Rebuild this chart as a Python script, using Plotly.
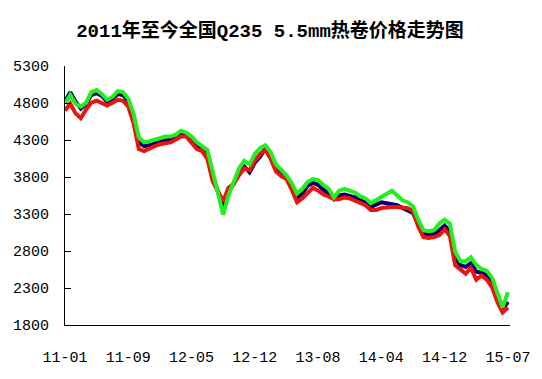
import plotly.graph_objects as go

# weekly-ish samples from 2011-01 to 2015-07 (index positions)
tick_labels = ["11-01", "11-09", "12-05", "12-12", "13-08", "14-04", "14-12", "15-07"]
tick_pos = [0, 12, 24, 36, 48, 60, 72, 84]

navy = [4817, 4947, 4817, 4725, 4791, 4908, 4934, 4895, 4817, 4856,
        4921, 4908, 4830, 4621, 4268, 4216, 4229, 4255, 4281, 4294,
        4307, 4334, 4386, 4373, 4307, 4203, 4177, 4112, 3811, 3602,
        3393, 3602, 3707, 3863, 3942, 3863, 3994, 4072, 4190, 4099,
        3929, 3850, 3798, 3681, 3511, 3576, 3681, 3720, 3694, 3628,
        3576, 3498, 3550, 3563, 3550, 3524, 3485, 3459, 3393, 3419,
        3459, 3446, 3432, 3419, 3380, 3354, 3315, 3158, 3027, 3027,
        3027, 3080, 3145, 3067, 2701, 2610, 2584, 2636, 2519, 2506,
        2467, 2375, 2179, 2009, 2113]

red = [4699, 4791, 4660, 4595, 4712, 4804, 4830, 4804, 4765, 4804,
       4843, 4830, 4751, 4530, 4177, 4151, 4190, 4216, 4242, 4255,
       4268, 4307, 4347, 4347, 4255, 4177, 4151, 4046, 3746, 3615,
       3472, 3654, 3707, 3824, 3916, 3890, 4020, 4112, 4164, 4046,
       3876, 3811, 3772, 3628, 3459, 3511, 3589, 3654, 3615, 3563,
       3537, 3498, 3498, 3524, 3511, 3485, 3446, 3419, 3354, 3354,
       3380, 3393, 3393, 3393, 3393, 3380, 3341, 3132, 2988, 2975,
       2988, 3014, 3093, 3001, 2610, 2558, 2493, 2571, 2414, 2467,
       2414, 2310, 2113, 1970, 2035]

green = [4790, 4910, 4790, 4751, 4805, 4947, 4974, 4920, 4843, 4882,
         4960, 4947, 4856, 4660, 4334, 4268, 4281, 4307, 4320, 4347,
         4347, 4373, 4425, 4399, 4347, 4268, 4216, 4164, 3876, 3589,
         3289, 3550, 3720, 3916, 4020, 3968, 4112, 4190, 4229, 4138,
         3968, 3890, 3824, 3720, 3576, 3641, 3733, 3772, 3759, 3694,
         3641, 3524, 3615, 3641, 3615, 3589, 3537, 3511, 3446, 3485,
         3524, 3563, 3615, 3550, 3485, 3459, 3406, 3223, 3080, 3067,
         3080, 3171, 3223, 3171, 2792, 2662, 2662, 2714, 2610, 2558,
         2532, 2440, 2244, 2035, 2244]

y_ticks = [1800, 2300, 2800, 3300, 3800, 4300, 4800, 5300]

x = list(range(len(green)))

fig = go.Figure()
for vals, col in [(navy, "#000066"), (red, "#EE1111"), (green, "#22EE22")]:
    fig.add_trace(go.Scatter(x=x, y=vals, mode="lines",
                             line=dict(color=col, width=4),
                             showlegend=False, hoverinfo="skip"))

fig.update_layout(
    width=542, height=379,
    margin=dict(l=65, r=32, t=66, b=45),
    paper_bgcolor="white", plot_bgcolor="white",
    title=dict(text="<b>2011年至今全国Q235 5.5mm热卷价格走势图</b>",
               x=270 / 542, xref="container", xanchor="center",
               y=1 - 30 / 379, yref="container", yanchor="middle",
               font=dict(family="Liberation Mono, Noto Sans CJK SC", size=19, color="black")),
    xaxis=dict(range=[0, 84.4], tickmode="array", tickvals=tick_pos, ticktext=tick_labels,
               showgrid=False, zeroline=False, showline=True, linecolor="black", linewidth=1,
               ticks="", ticklabelstandoff=18,
               tickfont=dict(family="Liberation Mono", size=15, color="black")),
    yaxis=dict(range=[1800, 5300], tickmode="array", tickvals=y_ticks,
               showgrid=False, zeroline=False, showline=True, linecolor="black", linewidth=1,
               ticks="inside", ticklen=6, tickcolor="black",
               ticklabelstandoff=12,
               tickfont=dict(family="Liberation Mono", size=15, color="black")),
)

fig.write_html("out.html")
